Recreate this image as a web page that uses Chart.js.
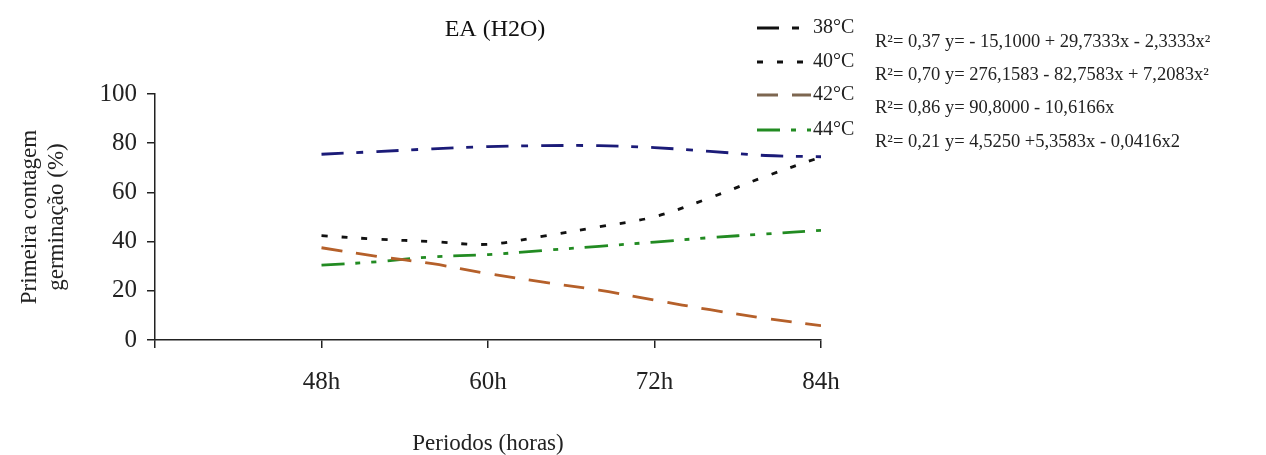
<!DOCTYPE html>
<html>
<head>
<meta charset="utf-8">
<script src="https://cdn.jsdelivr.net/npm/chart.js@4/dist/chart.umd.min.js"></script>
<style>
  html, body { margin: 0; padding: 0; background: #fff; }
  #wrap { width: 1266px; height: 455px; }
</style>
</head>
<body>
<div id="wrap"><canvas id="c" width="1266" height="455"></canvas></div>
<script>
// ---- data ----
const hours = [48, 52, 56, 60, 64, 68, 72, 76, 80, 84];
const s38 = [75.5, 76.6, 77.7, 78.6, 79.0, 79.0, 78.2, 76.7, 75.0, 74.5];
const s40 = [42.4, 41.0, 40.0, 38.9, 42.2, 46.0, 50.1, 57.8, 66.5, 74.4];
const s42 = [37.5, 34.0, 31.0, 27.0, 23.5, 20.3, 16.2, 12.3, 8.8, 5.8];
const s44 = [30.4, 31.8, 33.8, 34.7, 36.4, 38.1, 39.8, 41.6, 43.1, 44.6];
const seriesNames = ['38°C', '40°C', '42°C', '44°C'];
const xTickValues = [36, 48, 60, 72, 84];
const xTickLabels = ['', '48h', '60h', '72h', '84h'];
const yTickValues = [0, 20, 40, 60, 80, 100];
const equations = [
  'R²= 0,37 y= - 15,1000 + 29,7333x - 2,3333x²',
  'R²= 0,70 y= 276,1583 - 82,7583x + 7,2083x²',
  'R²= 0,86 y= 90,8000 - 10,6166x',
  'R²= 0,21 y= 4,5250 +5,3583x - 0,0416x2'
];
const chartTitle = 'EA (H2O)';
const yTitle = ['Primeira contagem', 'germinação (%)'];
const xTitle = 'Periodos (horas)';

const SERIF = '"Liberation Serif", "Times New Roman", serif';
const toPts = arr => hours.map((h, i) => ({ x: h, y: arr[i] }));

const styles = [
  { color: '#1b1b78', legendColor: '#111111', dash: [22, 13, 7, 13] },
  { color: '#111111', legendColor: '#111111', dash: [6, 14] },
  { color: '#b5602a', legendColor: '#7d6650', dash: [21, 14] },
  { color: '#228b22', legendColor: '#228b22', dash: [23, 11, 5, 11, 5, 11] }
];
const seriesData = [s38, s40, s42, s44];

const decorPlugin = {
  id: 'decor',
  afterDraw(chart) {
    const ctx = chart.ctx;
    ctx.save();
    // title
    ctx.fillStyle = '#111';
    ctx.font = '24px ' + SERIF;
    ctx.textAlign = 'center';
    ctx.textBaseline = 'middle';
    ctx.fillText(chartTitle, 495, 30);
    // legend
    const rowsY = [28, 62, 95, 130];
    chart.data.datasets.forEach((ds, i) => {
      const y = rowsY[i];
      ctx.beginPath();
      ctx.setLineDash(styles[i].dash);
      ctx.lineWidth = 2.8;
      ctx.strokeStyle = styles[i].legendColor;
      ctx.moveTo(757, y);
      ctx.lineTo(811, y);
      ctx.stroke();
      ctx.setLineDash([]);
      ctx.fillStyle = '#222';
      ctx.font = '20px ' + SERIF;
      ctx.textAlign = 'left';
      ctx.textBaseline = 'middle';
      ctx.fillText(ds.label, 813, y);
    });
    // equations
    const eqY = [42, 75, 108, 142];
    ctx.font = '18.5px ' + SERIF;
    ctx.fillStyle = '#222';
    equations.forEach((t, i) => ctx.fillText(t, 875, eqY[i]));
    ctx.restore();
  }
};

new Chart(document.getElementById('c'), {
  type: 'line',
  data: {
    datasets: seriesData.map((arr, i) => ({
      label: seriesNames[i],
      data: toPts(arr),
      borderColor: styles[i].color,
      backgroundColor: styles[i].color,
      borderDash: styles[i].dash,
      borderWidth: 2.8,
      pointRadius: 0,
      tension: 0.35,
      fill: false
    }))
  },
  options: {
    responsive: false,
    animation: false,
    layout: { padding: { left: 0, top: 94, right: 445, bottom: 0 } },
    plugins: { legend: { display: false }, title: { display: false }, tooltip: { enabled: false } },
    scales: {
      x: {
        type: 'linear',
        min: 36, max: 84,
        afterBuildTicks: s => { s.ticks = xTickValues.map(v => ({ value: v })); },
        afterFit: s => { s.height = 115; },
        grid: { drawOnChartArea: false, drawTicks: true, tickLength: 8, color: '#222', lineWidth: 1.5 },
        border: { display: true, color: '#222', width: 1.5 },
        ticks: {
          color: '#222', padding: 19, maxRotation: 0, autoSkip: false,
          font: { family: SERIF, size: 25, lineHeight: 1.2 },
          callback: v => xTickLabels[xTickValues.indexOf(v)]
        },
        title: { display: true, text: xTitle, color: '#222', padding: { top: 0, bottom: 0 },
                 font: { family: SERIF, size: 23, lineHeight: 1 } }
      },
      y: {
        min: 0, max: 100,
        afterBuildTicks: s => { s.ticks = yTickValues.map(v => ({ value: v })); },
        afterFit: s => { s.width = 155; },
        grid: { drawOnChartArea: false, drawTicks: true, tickLength: 8, color: '#222', lineWidth: 1.5 },
        border: { display: true, color: '#222', width: 1.5 },
        ticks: { color: '#222', padding: 10, font: { family: SERIF, size: 25 } },
        title: { display: true, text: yTitle, color: '#222', padding: { top: 16, bottom: 0 },
                 font: { family: SERIF, size: 23, lineHeight: 1.2 } }
      }
    }
  },
  plugins: [decorPlugin]
});
</script>
</body>
</html>
